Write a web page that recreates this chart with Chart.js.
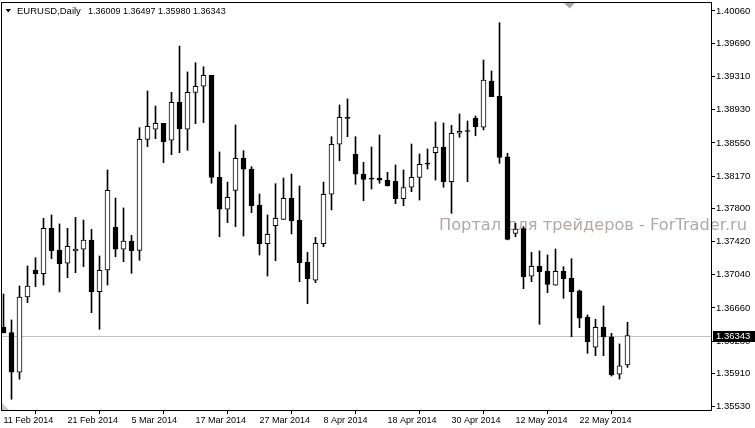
<!DOCTYPE html>
<html>
<head>
<meta charset="utf-8">
<script src="https://cdn.jsdelivr.net/npm/chart.js@4.4.1/dist/chart.umd.min.js"></script>
<style>
  html, body { margin: 0; padding: 0; background: #fff; overflow: hidden; }
  canvas { display: block; }
</style>
</head>
<body>
<canvas id="eurusdChart" width="755" height="428"></canvas>
<script>
// daily OHLC, 11 Feb 2014 .. 30 May 2014 (one entry per bar)
const opens = [
  1.36442, 1.36377, 1.35924, 1.36786, 1.37095, 1.37053, 1.37572, 1.37324, 1.37172, 1.37313,
  1.37332, 1.37438, 1.36847, 1.37095, 1.37584, 1.37332, 1.37427, 1.37320, 1.38591, 1.38706,
  1.38774, 1.38580, 1.39015, 1.38706, 1.39129, 1.39198, 1.39324, 1.38156, 1.37790, 1.38007,
  1.38374, 1.38251, 1.37839, 1.37396, 1.37602, 1.37675, 1.37916, 1.37667, 1.37183, 1.36977,
  1.37396, 1.37962, 1.38534, 1.38843, 1.38419, 1.38194, 1.38140, 1.38145, 1.38122, 1.38110,
  1.37911, 1.38042, 1.38156, 1.38320, 1.38438, 1.38503, 1.38106, 1.38660, 1.38690, 1.38835,
  1.38729, 1.39259, 1.39083, 1.38389, 1.37515, 1.37568, 1.37023, 1.37137, 1.37080, 1.36920,
  1.37080, 1.37000, 1.36855, 1.36557, 1.36210, 1.36439, 1.36331, 1.35901, 1.36009
];
const highs = [
  1.36820, 1.36523, 1.36912, 1.37141, 1.37236, 1.37687, 1.37725, 1.37622, 1.37572, 1.37698,
  1.37667, 1.37561, 1.37255, 1.38240, 1.37919, 1.37805, 1.37492, 1.38724, 1.39144, 1.38972,
  1.38774, 1.39129, 1.39659, 1.39362, 1.39468, 1.39422, 1.39324, 1.38446, 1.38102, 1.38755,
  1.38461, 1.38278, 1.37965, 1.37725, 1.38083, 1.38148, 1.38194, 1.38057, 1.37298, 1.37469,
  1.38102, 1.38621, 1.38984, 1.39053, 1.38621, 1.38328, 1.38503, 1.38640, 1.38213, 1.38297,
  1.38240, 1.38537, 1.38423, 1.38480, 1.38789, 1.38778, 1.38751, 1.38881, 1.38801, 1.38858,
  1.39499, 1.39373, 1.39926, 1.38431, 1.37630, 1.37591, 1.37298, 1.37313, 1.37267, 1.37335,
  1.37133, 1.37224, 1.36866, 1.36580, 1.36531, 1.36683, 1.36370, 1.36248, 1.36497
];
const lows = [
  1.36374, 1.35615, 1.35844, 1.36721, 1.36904, 1.36923, 1.37224, 1.36843, 1.37007, 1.37064,
  1.37133, 1.36606, 1.36416, 1.36923, 1.37247, 1.37190, 1.37057, 1.37206, 1.38507, 1.38598,
  1.38323, 1.38415, 1.38438, 1.38465, 1.38770, 1.38781, 1.38088, 1.37476, 1.37636, 1.37591,
  1.37484, 1.37751, 1.37267, 1.37026, 1.37201, 1.37675, 1.37507, 1.36961, 1.36709, 1.36950,
  1.37362, 1.37782, 1.38346, 1.38621, 1.38076, 1.37888, 1.38022, 1.38088, 1.38055, 1.37854,
  1.37831, 1.37991, 1.37896, 1.38251, 1.38125, 1.38042, 1.37744, 1.38614, 1.38106, 1.38632,
  1.38698, 1.39079, 1.38316, 1.37440, 1.37476, 1.36881, 1.36961, 1.36473, 1.36835, 1.36920,
  1.36771, 1.36331, 1.36434, 1.36141, 1.36114, 1.36114, 1.35881, 1.35847, 1.35980
];
const closes = [
  1.36374, 1.35924, 1.36786, 1.36912, 1.37053, 1.37572, 1.37316, 1.37167, 1.37366, 1.37335,
  1.37438, 1.36847, 1.37092, 1.38007, 1.37332, 1.37427, 1.37316, 1.38591, 1.38740, 1.38774,
  1.38564, 1.39015, 1.38713, 1.39129, 1.39198, 1.39324, 1.38156, 1.37790, 1.37927, 1.38374,
  1.38248, 1.37831, 1.37396, 1.37504, 1.37687, 1.37916, 1.37659, 1.37179, 1.36995, 1.37401,
  1.37962, 1.38534, 1.38843, 1.38830, 1.38191, 1.38133, 1.38135, 1.38122, 1.38060, 1.37911,
  1.38037, 1.38156, 1.38305, 1.38305, 1.38503, 1.38106, 1.38660, 1.38683, 1.38680, 1.38735,
  1.39270, 1.39079, 1.38385, 1.37446, 1.37564, 1.37018, 1.37137, 1.37076, 1.36931, 1.37080,
  1.36995, 1.36847, 1.36542, 1.36274, 1.36439, 1.36331, 1.35893, 1.35999, 1.36343
];

// one date label every 8 bars
const xTickLabels = ['11 Feb 2014', '21 Feb 2014', '5 Mar 2014', '17 Mar 2014', '27 Mar 2014',
  '8 Apr 2014', '18 Apr 2014', '30 Apr 2014', '12 May 2014', '22 May 2014'];
const xTickStep = 8;
const yTickValues = [1.40060, 1.39690, 1.39310, 1.38930, 1.38550, 1.38170, 1.37800,
  1.37420, 1.37040, 1.36660, 1.36280, 1.35910, 1.35530];

const symbolName = 'EURUSD,Daily';
const lastPrice = 1.36343;
const watermark = 'Портал для трейдеров - ForTrader.ru';

const FONT = '"Liberation Sans", Arial, sans-serif';

const bodies = opens.map((o, i) => ({ x: i, y: [o, closes[i]] }));
const wicks = lows.map((l, i) => ({ x: i, y: [l, highs[i]] }));
const bodyColors = opens.map((o, i) => (closes[i] > o ? '#ffffff' : '#000000'));

// terminal-style decorations: watermark, bid line, frame, header
const terminalLook = {
  id: 'terminalLook',
  beforeDatasetsDraw(chart) {
    const { ctx, chartArea: a, scales: { y } } = chart;
    ctx.save();
    ctx.font = '16px "DejaVu Sans", sans-serif';
    ctx.fillStyle = '#b4a8a8';
    ctx.textBaseline = 'alphabetic';
    const w = ctx.measureText(watermark).width;
    ctx.translate(439, 230);
    ctx.scale(308 / w, 1);
    ctx.fillText(watermark, 0, 0);
    ctx.restore();

    const py = Math.round(y.getPixelForValue(lastPrice)) + 0.5;
    ctx.save();
    ctx.strokeStyle = '#c0c0c0';
    ctx.lineWidth = 1;
    ctx.beginPath();
    ctx.moveTo(a.left, py);
    ctx.lineTo(a.right, py);
    ctx.stroke();
    ctx.restore();
  },
  afterDraw(chart) {
    const { ctx, chartArea: a, scales: { y } } = chart;
    ctx.save();
    // frame
    ctx.strokeStyle = '#000';
    ctx.lineWidth = 1;
    ctx.strokeRect(a.left - 0.5, a.top + 0.5, a.right - a.left, a.bottom - a.top);

    // corner / shift markers
    ctx.fillStyle = '#a8a8a8';
    ctx.beginPath();
    ctx.moveTo(564, 3); ctx.lineTo(575, 3); ctx.lineTo(569.5, 8.5);
    ctx.fill();
    ctx.fillStyle = '#c8c8c8';
    ctx.beginPath();
    ctx.moveTo(2, 403); ctx.lineTo(2, 410); ctx.lineTo(9, 410);
    ctx.fill();

    // bid price box on the axis
    const py = Math.round(y.getPixelForValue(lastPrice));
    ctx.fillStyle = '#000';
    ctx.fillRect(713, py - 5, 42, 11);
    ctx.fillStyle = '#fff';
    ctx.font = '9.5px ' + FONT;
    ctx.textBaseline = 'middle';
    ctx.fillText(lastPrice.toFixed(5), 716, py + 0.5);

    // header
    ctx.fillStyle = '#000';
    ctx.beginPath();
    ctx.moveTo(5.5, 9); ctx.lineTo(11, 9); ctx.lineTo(8.25, 12.5);
    ctx.fill();
    ctx.textBaseline = 'alphabetic';
    ctx.font = '9.5px ' + FONT;
    ctx.fillText(symbolName, 17, 14);
    ctx.font = '9px ' + FONT;
    const ohlc = [opens, highs, lows, closes].map(arr => arr[arr.length - 1].toFixed(5));
    ctx.fillText(ohlc.join(' '), 88, 14);
    ctx.restore();
  }
};

new Chart(document.getElementById('eurusdChart'), {
  type: 'bar',
  data: {
    datasets: [
      {
        label: 'body',
        data: bodies,
        backgroundColor: bodyColors,
        borderColor: '#000000',
        borderWidth: 1,
        borderSkipped: false,
        barThickness: 5,
        minBarLength: 1,
        grouped: false,
        clip: 0
      },
      {
        label: 'wick',
        data: wicks,
        backgroundColor: '#000000',
        borderWidth: 0,
        barThickness: 1,
        grouped: false,
        clip: 0
      }
    ]
  },
  options: {
    responsive: false,
    animation: false,
    devicePixelRatio: 1,
    layout: { padding: { left: 2, top: 2, right: 0, bottom: 0 } },
    plugins: {
      legend: { display: false },
      tooltip: { enabled: false }
    },
    scales: {
      x: {
        type: 'linear',
        min: -0.1875,
        max: 88.5625,
        offset: false,
        grid: { drawOnChartArea: false, drawTicks: true, tickLength: 4, color: '#000' },
        border: { display: false },
        afterBuildTicks: s => { s.ticks = xTickLabels.map((_, k) => ({ value: k * xTickStep })); },
        afterFit: s => {
          s.height = 18;
          s.paddingLeft = 0; s.paddingRight = 0; s.paddingTop = 0; s.paddingBottom = 0;
        },
        ticks: {
          autoSkip: false,
          maxRotation: 0,
          align: 'start',
          padding: 1,
          color: '#000',
          font: { family: FONT, size: 9 },
          callback: v => xTickLabels[Math.round(v / xTickStep)]
        }
      },
      y: {
        type: 'linear',
        position: 'right',
        min: 1.35492,
        max: 1.40163,
        grid: { drawOnChartArea: false, drawTicks: true, tickLength: 3, color: '#000' },
        border: { display: false },
        afterBuildTicks: s => { s.ticks = yTickValues.map(v => ({ value: v })); },
        afterFit: s => {
          s.width = 43;
          s.paddingLeft = 0; s.paddingRight = 0; s.paddingTop = 0; s.paddingBottom = 0;
        },
        ticks: {
          autoSkip: false,
          padding: 1,
          color: '#000',
          font: { family: FONT, size: 9.5 },
          callback: v => v.toFixed(5)
        }
      }
    }
  },
  plugins: [terminalLook]
});
</script>
</body>
</html>
